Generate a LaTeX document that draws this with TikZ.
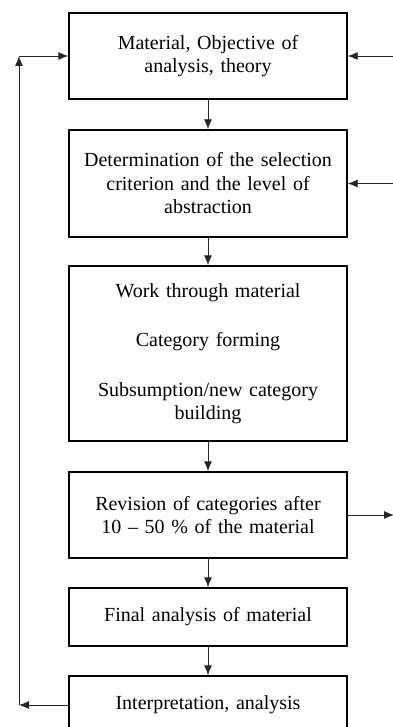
\documentclass[tikz,border=0pt]{standalone}
\usepackage{fontspec}
\setmainfont{Liberation Serif}
\usepackage{tikz}
\usetikzlibrary{calc}
\usetikzlibrary{arrows.meta}
\usetikzlibrary{positioning}

\tikzset{
 stage/.style={rectangle, draw=black, line width=1.4pt, minimum width=278pt, text width=266pt,
  align=center, inner sep=0pt, font=\fontsize{20}{23.5}\selectfont},
 flow/.style={-{Latex[length=10pt, width=8pt]}, draw=black!85, line width=0.9pt}
}

\begin{document}
\begin{tikzpicture}[x=1pt, y=-1pt]
 \useasboundingbox (0,0) rectangle (392,727);
 \node [stage, minimum height=86pt] (mat) at (208, 56) {Material, Objective of\\analysis, theory};
 \node [stage, minimum height=107pt] (crit) at (208, 183.5) {Determination of the selection\\criterion and the level of\\abstraction};
 \node [stage, minimum height=175pt] (work) at (208, 353.5) {Work through material\\[26pt]Category forming\\[26pt]Subsumption/new category\\building};
 \node [stage, minimum height=86pt] (rev) at (208, 515) {Revision of categories after\\10 -- 50 \% of the material};
 \node [stage, minimum height=58pt] (final) at (208, 617) {Final analysis of material};
 \node [stage, minimum height=58pt] (interp) at (208, 705) {Interpretation, analysis};
 \coordinate (in1) at (400, 56);
 \coordinate (in2) at (400, 183.5);
 \coordinate (out1) at (394, 515);
 \coordinate (lb) at (19, 705);
 \coordinate (lt) at (19, 56);
 \draw [flow] (mat) -- (crit);
 \draw [flow] (crit) -- (work);
 \draw [flow] (work) -- (rev);
 \draw [flow] (rev) -- (final);
 \draw [flow] (final) -- (interp);
 \draw [flow] (in1) -- (mat);
 \draw [flow] (in2) -- (crit);
 \draw [flow] (rev) -- (out1);
 \draw [flow] (interp) -- (lb);
 \draw [flow] (lb) -- (lt);
 \draw [flow] (lt) -- (mat);
\end{tikzpicture}
\end{document}
